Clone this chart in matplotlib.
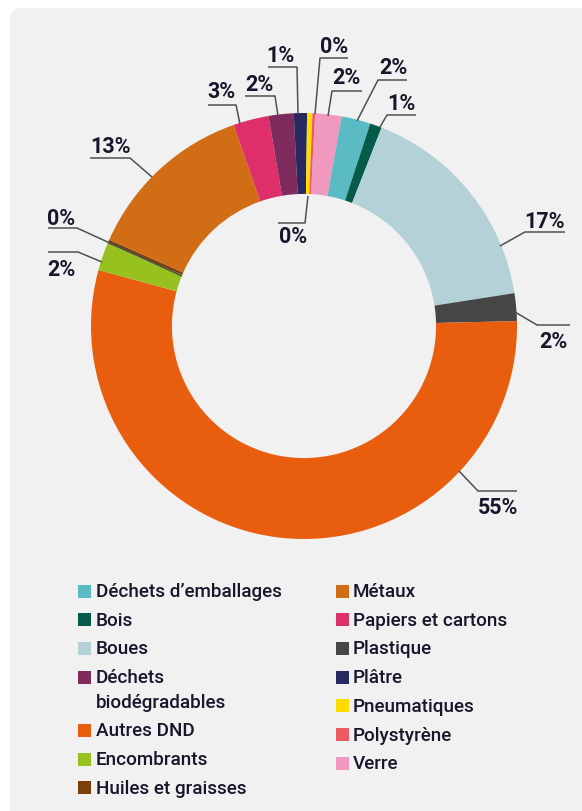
import matplotlib
matplotlib.use("Agg")
import matplotlib.pyplot as plt
from matplotlib.patches import FancyBboxPatch, Rectangle

# ---------------- data (clockwise from the top) ----------------
categories = ["Verre", "Déchets d’emballages", "Bois", "Boues", "Plastique",
              "Autres DND", "Encombrants", "Huiles et graisses", "Métaux",
              "Papiers et cartons", "Déchets\nbiodégradables", "Plâtre",
              "Pneumatiques", "Polystyrène"]
values = [2.0, 2.2, 0.9, 16.6, 2.1, 54.6, 2.1, 0.3, 13.0, 2.7, 1.9, 1.0, 0.4, 0.2]

legend_col1 = ["Déchets d’emballages", "Bois", "Boues", "Déchets\nbiodégradables",
               "Autres DND", "Encombrants", "Huiles et graisses"]
legend_col2 = ["Métaux", "Papiers et cartons", "Plastique", "Plâtre",
               "Pneumatiques", "Polystyrène", "Verre"]

# ---------------- styles ----------------
colors = {
    "Verre": "#f198bf",
    "Déchets d’emballages": "#5bbbc4",
    "Bois": "#055a48",
    "Boues": "#b3d1d7",
    "Plastique": "#464646",
    "Autres DND": "#e85d0e",
    "Encombrants": "#97c11f",
    "Huiles et graisses": "#7a3f0b",
    "Métaux": "#d06d15",
    "Papiers et cartons": "#de2f6b",
    "Déchets\nbiodégradables": "#7f2b5e",
    "Plâtre": "#28295e",
    "Pneumatiques": "#ffdc00",
    "Polystyrène": "#ec5b64",
}
TXT = "#16172a"
LINE = "#505050"
BG = "#f1f1f1"
plt.rcParams["font.family"] = ["Roboto", "DejaVu Sans"]

W, H = 582, 812
fig = plt.figure(figsize=(W / 100, H / 100), dpi=100)
fig.patch.set_facecolor("white")
ax = fig.add_axes([0, 0, 1, 1])


def P(px, py):
    return (px, H - py)


# background panel
bg = FancyBboxPatch(P(10, 830), 620, 821, boxstyle="round,pad=0,rounding_size=12",
                    facecolor=BG, edgecolor="none", zorder=0)
ax.add_patch(bg)

# donut
cx, cy, R = 304, 327, 213
wedges, _ = ax.pie(values, colors=[colors[c] for c in categories], startangle=87,
                   counterclock=False, radius=R, center=P(cx, cy),
                   wedgeprops=dict(width=R * 0.38, edgecolor="none"))
for w in wedges:
    w.set_zorder(2)

# value labels: (text centre, leader polyline) in pixel layout
layout = [
    ((346, 78), [(328, 117), (332, 92), (362, 92)]),
    ((393, 68), [(357, 122), (378, 81), (407, 81)]),
    ((401, 104), [(380, 128), (387, 116), (416, 116)]),
    ((545, 222), [(500, 247), (525, 233), (565, 233)]),
    ((553, 342), [(515, 313), (537, 326), (570, 326)]),
    ((498, 508), [(459, 472), (478, 492), (517, 492)]),
    ((61, 270), [(102, 263), (78, 253), (48, 253)]),
    ((61, 219), [(182, 277), (77, 229), (48, 229)]),
    ((110, 147), [(152, 178), (130, 159), (90, 159)]),
    ((221, 92), [(240, 125), (236, 106), (208, 106)]),
    ((259, 85), [(278, 117), (275, 97), (245, 97)]),
    ((280, 56), [(298, 115), (297, 68), (268, 68)]),
    ((293, 237), [(308, 197), (305, 224), (278, 224)]),
    ((334, 47), [(315, 115), (320, 59), (348, 59)]),
]
total = sum(values)
for v, (tpos, pts) in zip(values, layout):
    xs = [P(*p)[0] for p in pts]
    ys = [P(*p)[1] for p in pts]
    ax.plot(xs, ys, color=LINE, lw=1.1, zorder=3, solid_capstyle="butt")
    ax.text(*P(*tpos), f"{v / total * 100:.0f}%", ha="center", va="center",
            fontsize=15.5, fontweight="bold", color=TXT, zorder=4)

# legend (manual, two columns)
sq = 13
def legend_column(labels, sq_x, txt_x):
    y = 592
    for lab in labels:
        ax.add_patch(Rectangle(P(sq_x, y + sq / 2), sq, sq, facecolor=colors[lab],
                               edgecolor="none", zorder=3))
        lines = lab.split("\n")
        for k, ln in enumerate(lines):
            ax.text(*P(txt_x, y + 24.5 * k), ln, ha="left", va="center",
                    fontsize=13.6, fontweight="medium", color=TXT, zorder=3)
        y += 28.7 + 24.5 * (len(lines) - 1)

legend_column(legend_col1, 78, 96)
legend_column(legend_col2, 336, 353)

ax.set_xlim(0, W)
ax.set_ylim(0, H)
ax.set_aspect("auto")
ax.axis("off")
fig.savefig("out.png", dpi=100, facecolor=fig.get_facecolor())
